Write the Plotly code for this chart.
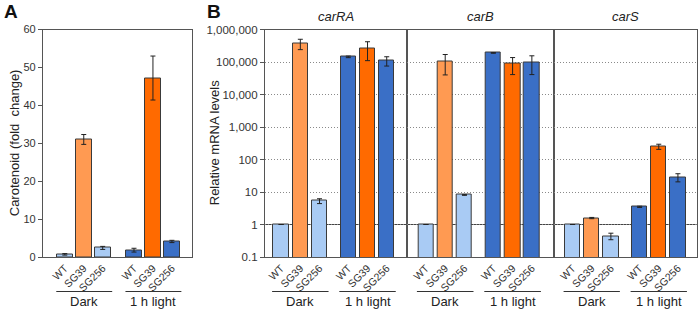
import plotly.graph_objects as go

W, H = 699, 310

strains = ["WT", "SG39", "SG256"]
conditions = ["Dark", "1 h light"]

# Panel A: carotenoid fold change (Dark: WT, SG39, SG256; 1 h light: WT, SG39, SG256)
carot_vals = [0.7, 31.0, 2.4, 1.8, 47.2, 4.1]
carot_err = [0.2, 1.3, 0.4, 0.5, 5.8, 0.3]

genes = ["carRA", "carB", "carS"]
mrna_vals = {
    "carRA": [1, 370000, 5.3, 144000, 265000, 110000],
    "carB": [1, 105000, 8.1, 190000, 89000, 98000],
    "carS": [1, 1.58, 0.44, 3.5, 250, 28.5],
}
mrna_err = {
    "carRA": [None, 130000, 0.9, 8000, 155000, 35000],
    "carB": [None, 65000, 0.2, 4000, 48000, 57000],
    "carS": [None, 0.07, 0.1, 0.15, 45, 8],
}

y_tickvals = [0.1, 1, 10, 100, 1000, 10000, 100000, 1000000]
y_ticktext = ["0.1", "1", "10", "100", "1,000", "10,000", "100,000", "1,000,000"]

bar_colors = ["#A9CBF4", "#FF9A52", "#A9CBF4", "#3A6FC6", "#FF6A00", "#3A6FC6"]
edge = "#3a3a3a"
axcol = "#555555"
font_family = "Arial, Liberation Sans, sans-serif"


def px_x(p):
    return p / W


def px_y(p):
    return 1 - p / H


fig = go.Figure()

gapA, gapB = 3.65, 3.5
posA = [g * gapA + i for g in range(len(conditions)) for i in range(len(strains))]
posB = [g * gapB + i for g in range(len(conditions)) for i in range(len(strains))]
labels = strains * len(conditions)

fig.add_trace(go.Bar(
    x=posA, y=carot_vals, width=0.85,
    marker=dict(color=bar_colors, line=dict(color=edge, width=1)),
    error_y=dict(type="data", array=carot_err, color="#222", thickness=1, width=2.5),
    xaxis="x", yaxis="y", showlegend=False, hoverinfo="skip",
))

for k, g in enumerate(genes):
    fig.add_trace(go.Bar(
        x=posB, y=mrna_vals[g], width=0.8,
        marker=dict(color=bar_colors, line=dict(color=edge, width=1)),
        error_y=dict(type="data", array=mrna_err[g], color="#222", thickness=1, width=2.5),
        xaxis=f"x{k+2}", yaxis=f"y{k+2}", showlegend=False, hoverinfo="skip",
    ))

ydom = [px_y(257), px_y(29.5)]
xtickfont = dict(family=font_family, size=10.5, color="#333")
ytickfontA = dict(family=font_family, size=11, color="#333")
ytickfontB = dict(family=font_family, size=11.5, color="#333")

layout = dict(
    width=W, height=H,
    margin=dict(l=0, r=0, t=0, b=0, autoexpand=False),
    paper_bgcolor="white", plot_bgcolor="white",
    font=dict(family=font_family, color="#222"),
    bargap=0,
)

layout["xaxis"] = dict(
    domain=[px_x(43), px_x(192)], range=[-1.15, posA[-1] + 1.06],
    tickvals=posA, ticktext=labels, tickangle=-45, tickfont=xtickfont,
    showline=True, linecolor=axcol, linewidth=1.2, mirror=True,
    showgrid=False, zeroline=False, ticks="", anchor="y", automargin=False,
)
layout["yaxis"] = dict(
    domain=ydom, range=[0, 60], dtick=10, tickfont=ytickfontA,
    showline=True, linecolor=axcol, linewidth=1.2, mirror=True,
    ticks="outside", ticklen=4, tickcolor=axcol,
    showgrid=False, zeroline=False, anchor="x", automargin=False,
)

xdomsB = [(265, 406.7), (406.7, 554), (554, 696.7)]
xrangesB = [(-0.84, posB[-1] + 1.04), (-1.0, posB[-1] + 1.15), (-0.97, posB[-1] + 0.98)]
for k in range(3):
    xa = f"xaxis{k+2}"
    ya = f"yaxis{k+2}"
    layout[xa] = dict(
        domain=[px_x(xdomsB[k][0]), px_x(xdomsB[k][1])], range=list(xrangesB[k]),
        tickvals=posB, ticktext=labels, tickangle=-45, tickfont=xtickfont,
        showline=True, linecolor=axcol, linewidth=1.2, mirror=True,
        showgrid=False, zeroline=False, ticks="", anchor=f"y{k+2}", automargin=False,
    )
    layout[ya] = dict(
        domain=ydom, type="log", range=[-1, 6],
        tickvals=y_tickvals, ticktext=y_ticktext,
        showticklabels=(k == 0), tickfont=ytickfontB,
        showline=True, linecolor=axcol, linewidth=1.2, mirror=True,
        ticks="outside" if k == 0 else "", ticklen=4, tickcolor=axcol,
        showgrid=True, gridcolor="#8a8a8a", griddash="1px,2px", gridwidth=1,
        zeroline=False, anchor=f"x{k+2}", automargin=False,
    )

fig.update_layout(**layout)

shapes = []
annotations = []

for k in range(3):
    shapes.append(dict(type="line", xref=f"x{k+2} domain", x0=0, x1=1,
                       yref=f"y{k+2}", y0=1, y1=1, layer="below",
                       line=dict(color="#444", width=1.2)))

line_y = px_y(291.5)
text_y = px_y(301)
for g, cond in enumerate(conditions):
    cA = g * gapA + 1
    shapes.append(dict(type="line", xref="x", yref="paper", x0=cA - 1.45, x1=cA + 1.5,
                       y0=line_y, y1=line_y, line=dict(color="#333", width=1)))
    annotations.append(dict(text=cond, xref="x", yref="paper", x=cA, y=text_y,
                            showarrow=False, font=dict(size=13, color="#222"),
                            xanchor="center", yanchor="middle"))
    for k in range(3):
        cB = g * gapB + 1
        shapes.append(dict(type="line", xref=f"x{k+2}", yref="paper", x0=cB - 1.47, x1=cB + 1.47,
                           y0=line_y, y1=line_y, line=dict(color="#333", width=1)))
        annotations.append(dict(text=cond, xref=f"x{k+2}", yref="paper", x=cB, y=text_y,
                                showarrow=False, font=dict(size=13, color="#222"),
                                xanchor="center", yanchor="middle"))

for k, g in enumerate(genes):
    annotations.append(dict(text=f"<i>{g}</i>", xref=f"x{k+2} domain", yref="paper",
                            x=0.5, y=px_y(17), showarrow=False,
                            font=dict(size=13, color="#222"), xanchor="center", yanchor="middle"))

annotations.append(dict(text="Carotenoid (fold  change)", xref="paper", yref="paper",
                        x=px_x(14), y=(ydom[0] + ydom[1]) / 2, textangle=-90, showarrow=False,
                        font=dict(size=13, color="#222"), xanchor="center", yanchor="middle"))
annotations.append(dict(text="Relative mRNA levels", xref="paper", yref="paper",
                        x=px_x(214), y=(ydom[0] + ydom[1]) / 2, textangle=-90, showarrow=False,
                        font=dict(size=13, color="#222"), xanchor="center", yanchor="middle"))

annotations.append(dict(text="<b>A</b>", xref="paper", yref="paper", x=px_x(2), y=px_y(12),
                        showarrow=False, font=dict(size=19, color="#111"),
                        xanchor="left", yanchor="middle"))
annotations.append(dict(text="<b>B</b>", xref="paper", yref="paper", x=px_x(205), y=px_y(12),
                        showarrow=False, font=dict(size=19, color="#111"),
                        xanchor="left", yanchor="middle"))

fig.update_layout(shapes=shapes, annotations=annotations)

fig.write_html("out.html", config={"displayModeBar": False},
               post_script="document.body.style.margin='0';document.body.style.padding='0';")
